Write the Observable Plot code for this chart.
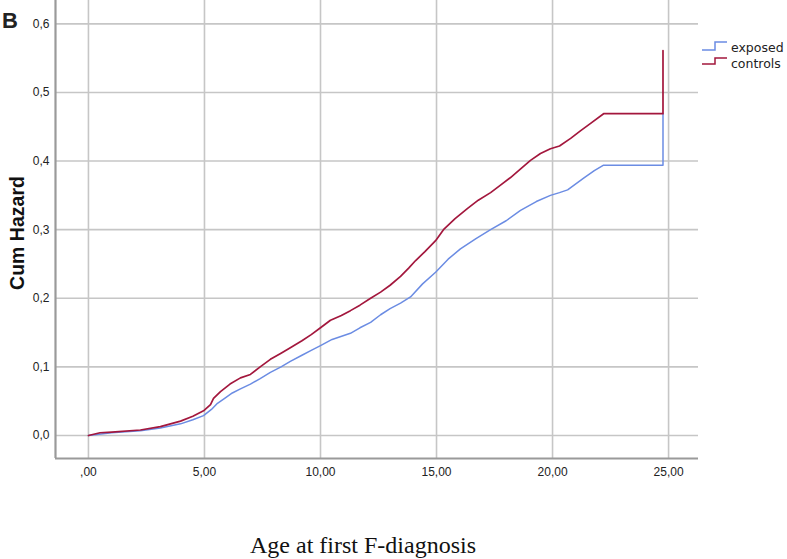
<!DOCTYPE html>
<html>
<head>
<meta charset="utf-8">
<script src="https://cdn.jsdelivr.net/npm/d3@7"></script>
<script src="https://cdn.jsdelivr.net/npm/@observablehq/plot@0.6"></script>
<style>
  html, body { margin: 0; padding: 0; background: #fff; }
  #wrap { position: relative; width: 787px; height: 559px; overflow: hidden; background: #fff; font-family: "Liberation Sans", Arial, sans-serif; }
  #chart { position: absolute; left: 0; top: 0; }
  #overlay { position: absolute; left: 0; top: 0; }
</style>
</head>
<body>
<div id="wrap">
  <div id="chart"></div>
  <svg id="overlay" width="787" height="559">
    <text x="2" y="28" font-family="Liberation Sans, Arial, sans-serif" font-weight="bold" font-size="22" fill="#222">B</text>
    <text transform="translate(24,233) rotate(-90)" text-anchor="middle" font-family="Liberation Sans, Arial, sans-serif" font-weight="bold" font-size="19.5" fill="#111">Cum Hazard</text>
    <text x="363" y="553" text-anchor="middle" font-family="Liberation Serif, Times New Roman, serif" font-size="24" fill="#111">Age at first F-diagnosis</text>
    <g id="legend" font-family="DejaVu Sans, sans-serif" font-size="12.5" fill="#222"></g>
  </svg>
</div>
<script>
// ---- data ----
const controlsAge = [0, 0.5, 1.0, 2.24, 3.1, 3.97, 4.5, 4.96, 5.26, 5.39, 5.69, 6.1, 6.55, 6.98, 7.4, 7.84, 8.3, 8.7, 9.2, 9.6, 10.0, 10.43, 10.9, 11.29, 11.7, 12.16, 12.59, 13.0, 13.45, 13.8, 14.1, 14.5, 14.96, 15.3, 15.8, 16.34, 16.8, 17.33, 17.8, 18.19, 18.6, 19.05, 19.48, 19.91, 20.3, 20.78, 21.2, 21.64, 22.2, 24.76, 24.76];
const controlsHaz = [0, 0.004, 0.005, 0.008, 0.013, 0.021, 0.028, 0.036, 0.045, 0.054, 0.064, 0.075, 0.084, 0.089, 0.1, 0.111, 0.12, 0.128, 0.138, 0.147, 0.157, 0.168, 0.175, 0.182, 0.19, 0.2, 0.209, 0.219, 0.232, 0.244, 0.255, 0.268, 0.284, 0.3, 0.316, 0.331, 0.343, 0.354, 0.366, 0.376, 0.388, 0.401, 0.411, 0.418, 0.422, 0.433, 0.444, 0.455, 0.469, 0.469, 0.561];
const exposedAge = [0, 1.0, 2.24, 3.1, 3.97, 4.5, 4.96, 5.3, 5.56, 5.9, 6.2, 6.55, 6.98, 7.4, 7.84, 8.3, 8.7, 9.2, 9.6, 10.0, 10.5, 11.29, 11.7, 12.16, 12.59, 13.0, 13.45, 13.88, 14.4, 14.96, 15.5, 16.03, 16.7, 17.33, 18.0, 18.62, 19.3, 19.91, 20.3, 20.65, 21.34, 21.8, 22.2, 24.76, 24.76];
const exposedHaz = [0, 0.004, 0.007, 0.011, 0.017, 0.023, 0.029, 0.038, 0.047, 0.055, 0.062, 0.068, 0.075, 0.083, 0.092, 0.1, 0.108, 0.117, 0.124, 0.131, 0.14, 0.149, 0.157, 0.165, 0.176, 0.185, 0.193, 0.202, 0.221, 0.238, 0.257, 0.272, 0.287, 0.3, 0.313, 0.328, 0.341, 0.35, 0.354, 0.358, 0.375, 0.386, 0.394, 0.394, 0.469];
const xTicks = [0, 5, 10, 15, 20, 25];
const xTickLabels = [",00", "5,00", "10,00", "15,00", "20,00", "25,00"];
const yTicks = [0, 0.1, 0.2, 0.3, 0.4, 0.5, 0.6];
const yTickLabels = ["0,0", "0,1", "0,2", "0,3", "0,4", "0,5", "0,6"];
const seriesNames = ["exposed", "controls"];
const seriesColors = ["#6b8ce3", "#a3173d"];

const xDomain = [-1.42, 26.29];
const yDomain = [-0.0335, 0.634];

const exposedRows = exposedAge.map((a, i) => ({age: a, haz: exposedHaz[i]}));
const controlsRows = controlsAge.map((a, i) => ({age: a, haz: controlsHaz[i]}));

const gridColor = "#c6c6c6";
const axisColor = "#9a9a9a";

const plot = Plot.plot({
  width: 787,
  height: 490,
  marginLeft: 55,
  marginRight: 89,
  marginTop: 0,
  marginBottom: 32,
  style: {fontFamily: "Liberation Sans, Arial, sans-serif", fontSize: "12px", color: "#222", background: "transparent"},
  x: {domain: xDomain},
  y: {domain: yDomain},
  marks: [
    Plot.gridX(xTicks, {stroke: gridColor, strokeOpacity: 1, strokeWidth: 1.6}),
    Plot.gridY(yTicks, {stroke: gridColor, strokeOpacity: 1, strokeWidth: 1.6}),
    Plot.ruleX([xDomain[0]], {stroke: axisColor, strokeWidth: 2.2}),
    Plot.ruleY([yDomain[0]], {stroke: axisColor, strokeWidth: 2.2}),
    Plot.axisX(xTicks, {tickSize: 0, tickPadding: 9, fontSize: 12, tickFormat: (d) => xTickLabels[xTicks.indexOf(d)], label: null, fill: "#222"}),
    Plot.axisY(yTicks, {tickSize: 0, tickPadding: 6, fontSize: 12, tickFormat: (d) => yTickLabels[yTicks.indexOf(d)], label: null, fill: "#222"}),
    Plot.line(exposedRows, {x: "age", y: "haz", stroke: seriesColors[0], strokeWidth: 1.5}),
    Plot.line(controlsRows, {x: "age", y: "haz", stroke: seriesColors[1], strokeWidth: 1.7})
  ]
});
document.getElementById("chart").appendChild(plot);

// legend
const lg = document.getElementById("legend");
const ns = "http://www.w3.org/2000/svg";
const legendLow = [50, 64];
const legendHigh = [42, 58];
const legendBase = [52, 68];
seriesNames.forEach((name, i) => {
  const p = document.createElementNS(ns, "path");
  p.setAttribute("d", `M702,${legendLow[i]} H715 V${legendHigh[i]} H727`);
  p.setAttribute("fill", "none");
  p.setAttribute("stroke", seriesColors[i]);
  p.setAttribute("stroke-width", "1.5");
  lg.appendChild(p);
  const t = document.createElementNS(ns, "text");
  t.setAttribute("x", 731);
  t.setAttribute("y", legendBase[i]);
  t.textContent = name;
  lg.appendChild(t);
});
</script>
</body>
</html>
